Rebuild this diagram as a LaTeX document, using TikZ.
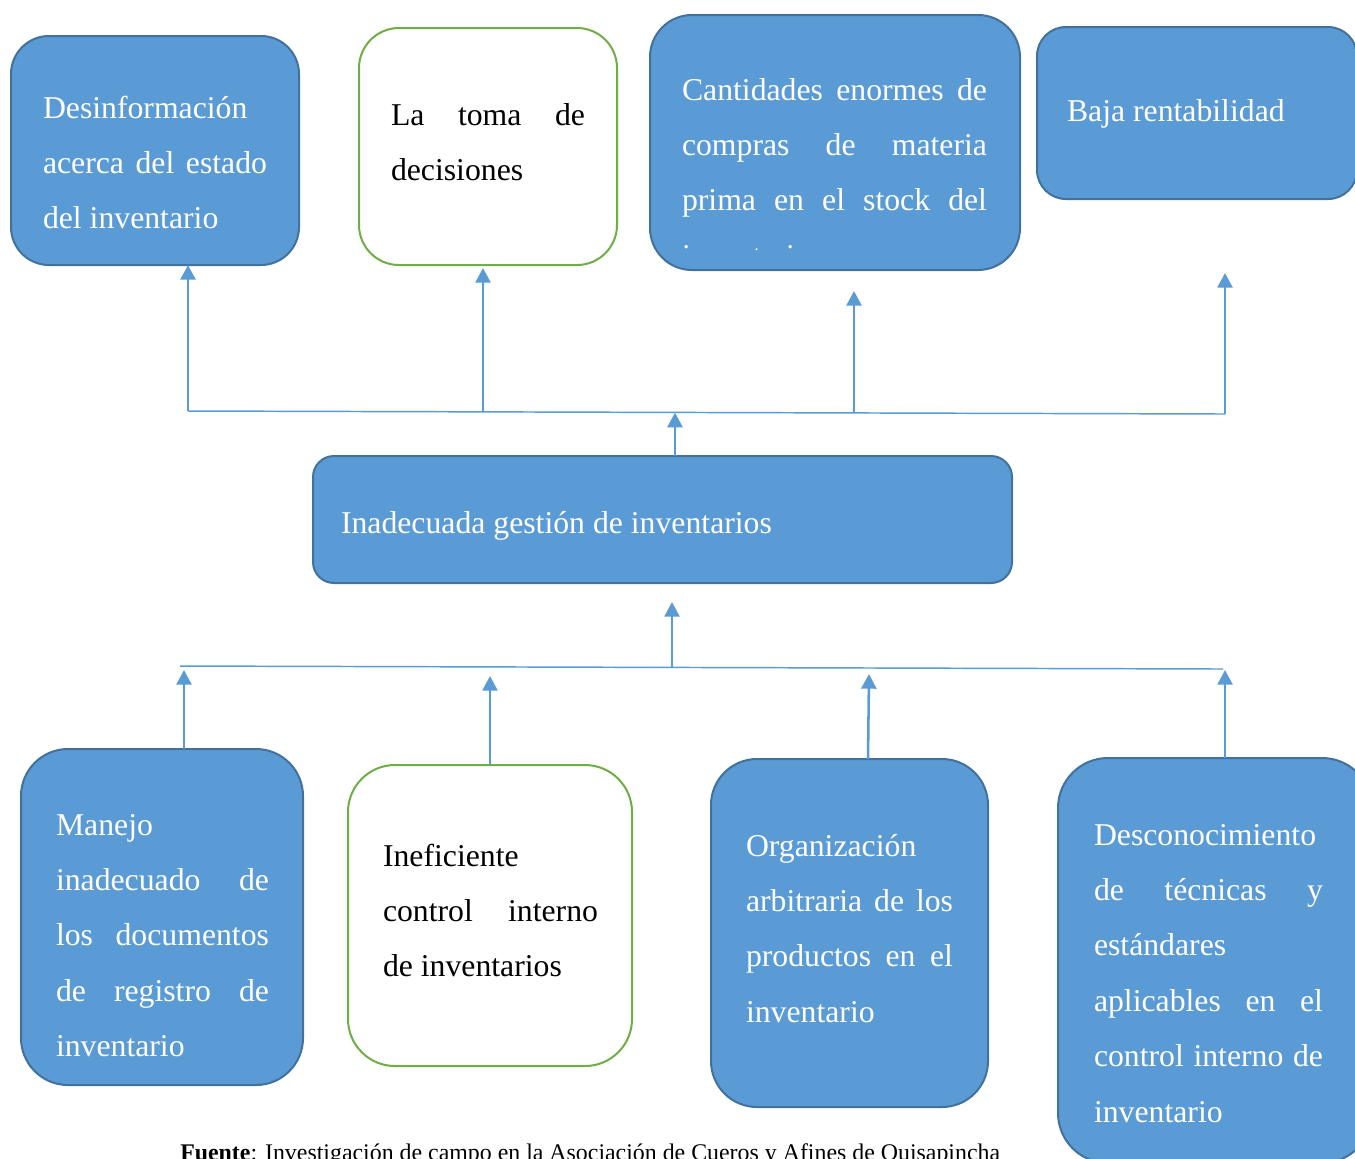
\documentclass[tikz,border=0pt]{standalone}
\usepackage{fontspec}
\setmainfont{Liberation Serif}
\usetikzlibrary{arrows.meta}

\definecolor{boxblue}{HTML}{5B9BD5}
\definecolor{boxedge}{HTML}{41719C}
\definecolor{boxgreen}{HTML}{70AD47}
\definecolor{linkblue}{HTML}{5B9BD5}

% one drawing unit
\newdimen\pxu \pxu=0.75pt
% a line stretched to the full text width
\newcommand{\fullline}[1]{\makebox[\linewidth][s]{#1}}

\tikzset{
  bluebox/.style={draw=boxedge, fill=boxblue, line width=1.5pt, inner sep=0pt, outer sep=0pt},
  whitebox/.style={draw=boxgreen, fill=white, line width=1.5pt, inner sep=0pt, outer sep=0pt},
  boxtext/.style={anchor=base west, inner sep=0pt, outer sep=0pt,
    font=\fontsize{23.8pt}{41.6pt}\selectfont},
  link/.style={draw=linkblue, line width=1.9pt, -{Triangle[width=11.25pt,length=11pt]}},
  bar/.style={draw=linkblue, line width=1.1pt},
}

\begin{document}
\begin{tikzpicture}[x=0.75pt, y=-0.75pt]
\useasboundingbox (0,0) rectangle (1355,1158);
\clip (0,0) rectangle (1355,1158);
\fill[white] (0,0) rectangle (1355,1158);

% effects
\node[bluebox, rounded corners=38\pxu, minimum width=288\pxu, minimum height=229\pxu] (e1) at (155,150.5) {};
\node[whitebox, rounded corners=40\pxu, minimum width=258\pxu, minimum height=237\pxu] (e2) at (488,146.5) {};
\node[bluebox, rounded corners=42\pxu, minimum width=370\pxu, minimum height=255\pxu] (e3) at (835,142.5) {};
\node[bluebox, rounded corners=29\pxu, minimum width=320\pxu, minimum height=172\pxu] (e4) at (1197,113) {};

% central problem
\node[bluebox, rounded corners=21\pxu, minimum width=699\pxu, minimum height=127\pxu] (mid) at (662.5,519.5) {};

% causes
\node[bluebox, rounded corners=47\pxu, minimum width=282\pxu, minimum height=336\pxu] (c1) at (162,917) {};
\node[whitebox, rounded corners=47\pxu, minimum width=284\pxu, minimum height=301\pxu] (c2) at (490,915.5) {};
\node[bluebox, rounded corners=46\pxu, minimum width=277\pxu, minimum height=348\pxu] (c3) at (849.5,933) {};
\node[bluebox, rounded corners=50\pxu, minimum width=314\pxu, minimum height=405\pxu] (c4) at (1215,960.5) {};

% texts
\node[boxtext, text=white] (t1) at (43,118) {\parbox[t]{224\pxu}{\raggedright
  Desinformación\\
  \fullline{acerca del estado}\\
  del inventario}};
\node[boxtext, text=black] (t2) at (391,125) {\parbox[t]{194\pxu}{\raggedright
  \fullline{La toma de}\\
  decisiones}};
\begin{scope}
  \clip (650,15) rectangle (1020,249);
  \node[boxtext, text=white] (t3) at (682,100) {\parbox[t]{305\pxu}{\raggedright
    \fullline{Cantidades enormes de}\\
    \fullline{compras de materia}\\
    \fullline{prima en el stock del}\\
    inventario}};
\end{scope}
\node[boxtext, text=white] (t4) at (1067,121) {Baja rentabilidad};
\node[boxtext, text=white] (t5) at (341,533) {Inadecuada gestión de inventarios};
\node[boxtext, text=white] (t6) at (56,835) {\parbox[t]{213\pxu}{\raggedright
  Manejo\\
  \fullline{inadecuado de}\\
  \fullline{los documentos}\\
  \fullline{de registro de}\\
  inventario}};
\node[boxtext, text=black] (t7) at (383,866) {\parbox[t]{215\pxu}{\raggedright
  Ineficiente\\
  \fullline{control interno}\\
  de inventarios}};
\node[boxtext, text=white] (t8) at (746,856) {\parbox[t]{207\pxu}{\raggedright
  Organización\\
  \fullline{arbitraria de los}\\
  \fullline{productos en el}\\
  inventario}};
\node[boxtext, text=white] (t9) at (1094,845) {\parbox[t]{229\pxu}{\raggedright
  Desconocimiento\\
  \fullline{de técnicas y}\\
  estándares\\
  \fullline{aplicables en el}\\
  \fullline{control interno de}\\
  inventario}};

% upper branching
\coordinate (ua) at (188,411);
\coordinate (ub) at (483,411.9);
\coordinate (uc) at (854,413);
\coordinate (ud) at (1225,414);
\coordinate (um) at (675,412.6);
\coordinate (ta) at (188,265);
\coordinate (tb) at (483,268);
\coordinate (tc) at (854,291);
\coordinate (td) at (1225,273);
\path[bar] (ua) -- (ud);
\path[link] (ua) -- (ta);
\path[link] (ub) -- (tb);
\path[link] (uc) -- (tc);
\path[link] (ud) -- (td);
\path[link] (mid.north -| um) -- (um);

% lower branching
\coordinate (la) at (180,666);
\coordinate (lb) at (1223,669);
\coordinate (lm) at (672,667.4);
\coordinate (tm) at (672,602);
\coordinate (s1) at (184,670);
\coordinate (s2) at (490,676);
\coordinate (s3) at (869,674);
\coordinate (s4) at (1225,670);
\coordinate (b3) at (868,759);
\path[bar] (la) -- (lb);
\path[link] (lm) -- (tm);
\path[link] (c1.north -| s1) -- (s1);
\path[link] (c2.north -| s2) -- (s2);
\path[link] (b3) -- (s3);
\path[link] (c4.north -| s4) -- (s4);

% source note
\node[anchor=base west, inner sep=0pt, font=\fontsize{17.9pt}{19pt}\selectfont] (src) at (180,1160)
  {\textbf{Fuente}: Investigación de campo en la Asociación de Cueros y Afines de Quisapincha};
\end{tikzpicture}
\end{document}
